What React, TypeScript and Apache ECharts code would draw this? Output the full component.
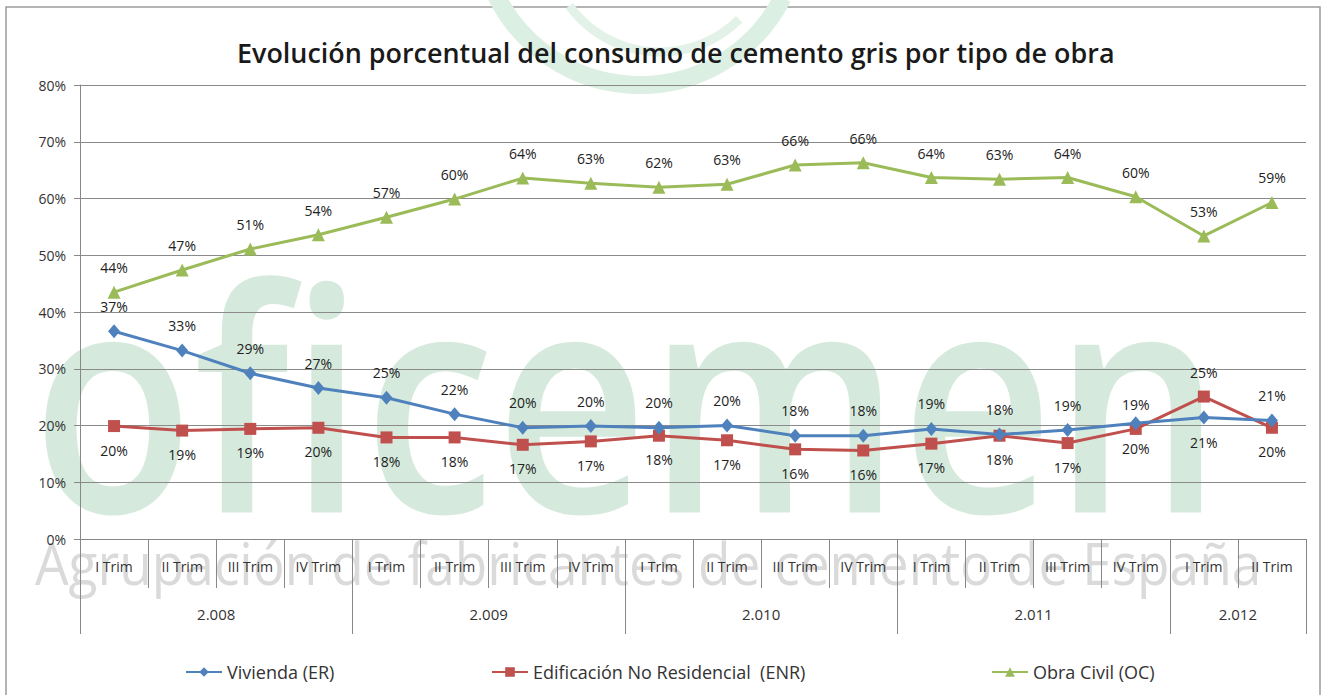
import React, { useEffect, useRef } from "react";
import * as echarts from "echarts";

const categories = [
  "I Trim", "II Trim", "III Trim", "IV Trim",
  "I Trim", "II Trim", "III Trim", "IV Trim",
  "I Trim", "II Trim", "III Trim", "IV Trim",
  "I Trim", "II Trim", "III Trim", "IV Trim",
  "I Trim", "II Trim",
];
const years = ["2.008", "2.009", "2.010", "2.011", "2.012"];
const quartersPerYear = [4, 4, 4, 4, 2];

const vivienda = [36.6, 33.2, 29.2, 26.6, 24.9, 22.0, 19.6, 19.9, 19.6, 20.0, 18.2, 18.2, 19.4, 18.4, 19.2, 20.4, 21.4, 20.9];
const edificacion = [19.9, 19.1, 19.4, 19.6, 17.9, 17.9, 16.6, 17.2, 18.2, 17.4, 15.8, 15.6, 16.8, 18.2, 16.9, 19.4, 25.1, 19.6];
const obraCivil = [43.5, 47.4, 51.1, 53.6, 56.7, 59.9, 63.6, 62.7, 62.0, 62.5, 65.9, 66.3, 63.7, 63.4, 63.7, 60.3, 53.4, 59.3];

const seriesNames = ["Vivienda (ER)", "Edificación No Residencial  (ENR)", "Obra Civil (OC)"];
const title = "Evolución porcentual del consumo de cemento gris por tipo de obra";

// label positions swapped at these points (blue below, red above)
const swappedLabelIdx = [15, 16];

const FONT = "'Open Sans', sans-serif";

function measure(text: string, font: string): number {
  const c = document.createElement("canvas").getContext("2d")!;
  c.font = font;
  return c.measureText(text).width;
}

export default function App() {
  const ref = useRef<HTMLDivElement>(null);
  useEffect(() => {
    document.body.style.margin = "0";
    const chart = echarts.init(ref.current!, undefined, { renderer: "svg" });

    const bounds: number[] = [0];
    const centers: number[] = [];
    quartersPerYear.forEach((n) => {
      const s = bounds[bounds.length - 1];
      centers.push(s + n / 2);
      bounds.push(s + n);
    });
    const yearAt = (v: number) => {
      const i = centers.findIndex((c) => Math.abs(c - v) < 1e-6);
      return i >= 0 ? years[i] : "";
    };

    const titleFs = 25 * 878 / measure(title, "600 25px 'Open Sans'");
    const wm = "oficemen";
    const wmFs = 310;
    const wmScale = 1190 / measure(wm, `600 ${wmFs}px 'Open Sans'`);
    const sub = "Agrupación de fabricantes de cemento de España";
    const subFs = 58;
    const subScale = 1227 / measure(sub, `400 ${subFs}px 'Open Sans'`);

    const mkData = (vals: number[], swapPos: string) =>
      vals.map((v, i) =>
        swappedLabelIdx.includes(i) ? { value: v, label: { position: swapPos } } : v
      );

    const labelBase = {
      show: true,
      distance: 11,
      fontSize: 14,
      color: "#222",
      fontFamily: FONT,
      formatter: (p: any) => Math.round(p.value) + "%",
    };

    const option: any = {
      animation: false,
      backgroundColor: "#ffffff",
      textStyle: { fontFamily: FONT },
      title: {
        text: title,
        left: 232,
        top: 34,
        textStyle: { fontFamily: "'Open Sans', sans-serif", fontWeight: 600, fontSize: titleFs, color: "#1a1a1a" },
      },
      graphic: [
        {
          type: "rect",
          z: -30,
          shape: { x: 6, y: 7, width: 1314, height: 720 },
          style: { fill: "none", stroke: "#9c9c9c", lineWidth: 1.5 },
        },
        {
          type: "arc",
          z: -25,
          shape: { cx: 640, cy: -75, r: 160, startAngle: 0.15 * Math.PI, endAngle: 0.9 * Math.PI },
          style: { fill: "none", stroke: "#dcefe3", lineWidth: 18 },
        },
        {
          type: "arc",
          z: -25,
          shape: { cx: 660, cy: -60, r: 112, startAngle: 0.25 * Math.PI, endAngle: 0.8 * Math.PI },
          style: { fill: "none", stroke: "#e3f2e8", lineWidth: 9 },
        },
        {
          type: "text",
          z: -20,
          x: 32,
          y: 392,
          scaleX: wmScale,
          style: {
            text: wm,
            fontSize: wmFs,
            fontFamily: "'Open Sans'",
            fontWeight: 600,
            fill: "#d5eadc",
            textAlign: "left",
            textVerticalAlign: "middle",
          },
        },
        {
          type: "text",
          z: -20,
          x: 35,
          y: 563,
          scaleX: subScale,
          style: {
            text: sub,
            fontSize: subFs,
            fontFamily: "'Open Sans'",
            fontWeight: 400,
            fill: "#dadada",
            textAlign: "left",
            textVerticalAlign: "middle",
          },
        },
      ],
      legend: [
        { data: [seriesNames[0]], left: 180, top: 658 },
        { data: [seriesNames[1]], left: 486, top: 658 },
        { data: [seriesNames[2]], left: 986, top: 658 },
      ].map((l) => ({
        ...l,
        itemWidth: 36,
        itemHeight: 12,
        itemGap: 4,
        textStyle: { fontSize: 18, color: "#333", fontFamily: FONT },
      })),
      grid: { left: 80, right: 23, top: 85, bottom: 156, containLabel: false },
      xAxis: [
        {
          type: "category",
          data: categories,
          boundaryGap: true,
          axisLine: { show: true, lineStyle: { color: "#888", width: 1 } },
          axisTick: { show: true, interval: 0, length: 49, lineStyle: { color: "#888" } },
          axisLabel: { interval: 0, margin: 20, fontSize: 14, color: "#333", fontFamily: FONT },
          splitLine: { show: false },
        },
        {
          type: "value",
          min: 0,
          max: categories.length,
          position: "bottom",
          offset: 0,
          axisLine: { show: false },
          splitLine: { show: false },
          axisTick: { show: true, customValues: bounds, length: 95, lineStyle: { color: "#888" } },
          axisLabel: { customValues: centers, formatter: yearAt, margin: 67, fontSize: 15, color: "#333", fontFamily: FONT },
        },
      ],
      yAxis: {
        type: "value",
        min: 0,
        max: 80,
        interval: 10,
        axisLine: { show: true, lineStyle: { color: "#888" } },
        axisTick: { show: true, length: 6, lineStyle: { color: "#888" } },
        axisLabel: { formatter: (v: number) => v + "%", fontSize: 14, color: "#333", margin: 14, fontFamily: FONT },
        splitLine: { show: true, lineStyle: { color: "#8a8a8a", width: 1 } },
      },
      series: [
        {
          name: seriesNames[0],
          type: "line",
          data: mkData(vivienda, "bottom"),
          symbol: "diamond",
          symbolSize: [12, 14],
          lineStyle: { color: "#4F81BD", width: 3 },
          itemStyle: { color: "#4F81BD" },
          label: { ...labelBase, position: "top" },
          z: 4,
        },
        {
          name: seriesNames[1],
          type: "line",
          data: mkData(edificacion, "top"),
          symbol: "rect",
          symbolSize: 12,
          lineStyle: { color: "#C0504D", width: 3 },
          itemStyle: { color: "#C0504D" },
          label: { ...labelBase, position: "bottom" },
          z: 3,
        },
        {
          name: seriesNames[2],
          type: "line",
          data: obraCivil,
          symbol: "triangle",
          symbolSize: 13,
          lineStyle: { color: "#9BBB59", width: 3 },
          itemStyle: { color: "#9BBB59" },
          label: { ...labelBase, position: "top" },
          z: 3,
        },
      ],
    };
    chart.setOption(option);
    return () => chart.dispose();
  }, []);
  return <div ref={ref} style={{ position: "fixed", left: 0, top: 0, width: 1329, height: 695 }} />;
}
